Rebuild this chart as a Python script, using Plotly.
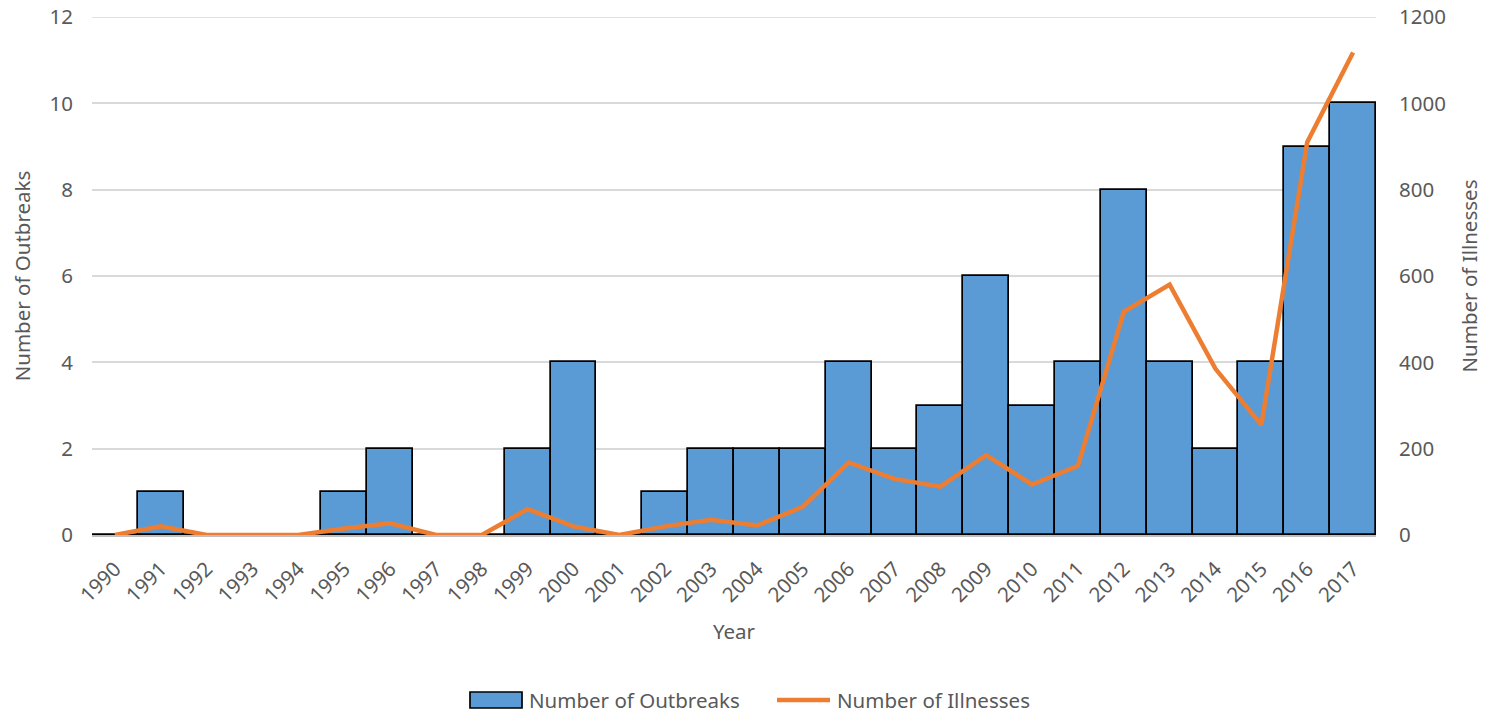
import plotly.graph_objects as go

years = [str(y) for y in range(1990, 2018)]
outbreaks = [0, 1, 0, 0, 0, 1, 2, 0, 0, 2, 4, 0, 1, 2, 2, 2, 4, 2, 3, 6, 3, 4, 8, 4, 2, 4, 9, 10]
illnesses = [0, 20, 0, 0, 0, 15, 27, 0, 0, 60, 20, 0, 20, 35, 22, 65, 168, 130, 112, 185, 117, 160, 517, 580, 385, 255, 910, 1118]

FONT = "Noto Sans"
GREY = "#595959"
FS = 20.5

fig = go.Figure()
fig.add_trace(go.Bar(
    x=years, y=outbreaks, name="Number of Outbreaks",
    marker=dict(color="#5B9BD5", line=dict(color="black", width=1.7)),
    yaxis="y", showlegend=False,
))
fig.add_trace(go.Scatter(
    x=years, y=illnesses, name="Number of Illnesses", mode="lines",
    line=dict(color="#ED7D31", width=4.5),
    yaxis="y2", showlegend=False,
))

# top gridline at 12 (drawn at the edge of the plot)
fig.add_shape(type="line", xref="paper", yref="y", x0=0, x1=1, y0=12, y1=12,
              line=dict(color="#D9D9D9", width=1.5), layer="below")

# manual legend (Excel style)
W, H = 1489 - 92 - 113, 714 - 17 - 179
def px(x):
    return (x - 92) / W
def py(y):
    return (714 - 179 - y) / H

fig.add_shape(type="rect", xref="paper", yref="paper",
              x0=px(470), x1=px(522), y0=py(708), y1=py(692),
              fillcolor="#5B9BD5", line=dict(color="black", width=1.7))
fig.add_annotation(xref="paper", yref="paper", x=px(527), y=py(700),
                   text="Number of Outbreaks", showarrow=False,
                   xanchor="left", yanchor="middle", font=dict(size=FS, color=GREY))
fig.add_shape(type="line", xref="paper", yref="paper",
              x0=px(777), x1=px(830), y0=py(700), y1=py(700),
              line=dict(color="#ED7D31", width=4.5))
fig.add_annotation(xref="paper", yref="paper", x=px(835), y=py(700),
                   text="Number of Illnesses", showarrow=False,
                   xanchor="left", yanchor="middle", font=dict(size=FS, color=GREY))

fig.update_layout(
    width=1489, height=714,
    margin=dict(l=92, r=113, t=17, b=179),
    plot_bgcolor="white", paper_bgcolor="white",
    font=dict(family=FONT, size=FS, color=GREY),
    bargap=0,
    showlegend=False,
    xaxis=dict(
        type="category", range=[-0.5, 27.5], tickangle=-45, automargin=False,
        showgrid=False, showline=True, linecolor="#BFBFBF", linewidth=1.5,
        ticks="", tickfont=dict(size=FS, color=GREY), ticklabelstandoff=12,
        title=dict(text="Year", font=dict(size=FS, color=GREY), standoff=18),
    ),
    yaxis=dict(
        range=[0, 12], dtick=2, showgrid=True, gridcolor="#D9D9D9", gridwidth=1.5,
        zeroline=False, showline=False, ticks="", automargin=False,
        tickfont=dict(size=FS, color=GREY), ticklabelstandoff=18,
        title=dict(text="Number of Outbreaks", font=dict(size=FS, color=GREY), standoff=13),
    ),
    yaxis2=dict(
        range=[0, 1200], dtick=200, overlaying="y", side="right", automargin=False,
        showgrid=False, zeroline=False, showline=False, ticks="",
        tickfont=dict(size=FS, color=GREY), ticklabelstandoff=22,
        title=dict(text="Number of Illnesses", font=dict(size=FS, color=GREY), standoff=17),
    ),
)

fig.write_html("out.html")
